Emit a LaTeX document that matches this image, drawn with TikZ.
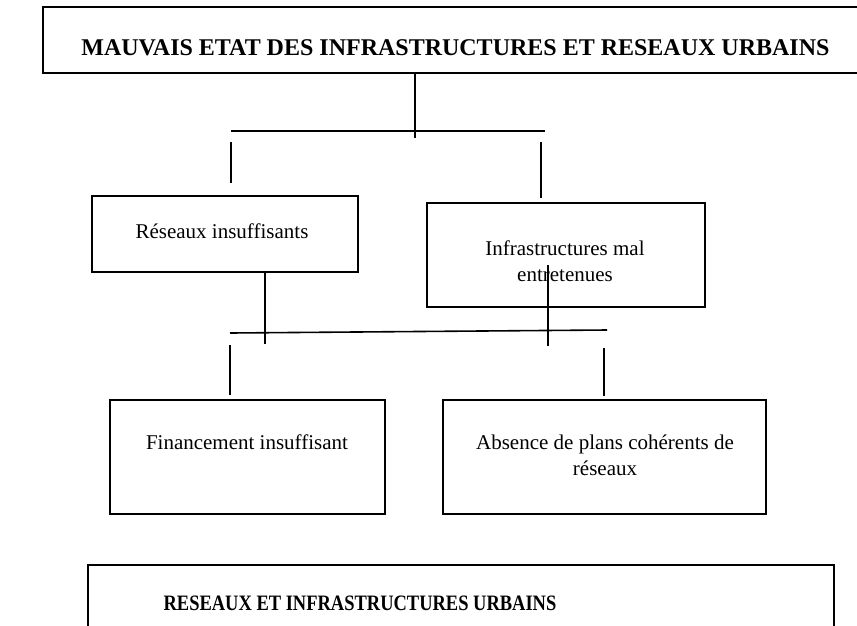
\documentclass[tikz,border=0pt]{standalone}
\usepackage{fontspec}
\setmainfont{Liberation Serif}
\begin{document}
\begin{tikzpicture}[x=1pt,y=-1pt,
  frame/.style={draw, line width=1.6pt, inner sep=0pt},
  link/.style={line width=1.6pt},
  label/.style={inner sep=0pt, align=center, font=\fontsize{21}{26}\selectfont},
  headline/.style={inner sep=0pt, font=\fontsize{24}{28}\selectfont\bfseries},
  subline/.style={inner sep=0pt, font=\fontsize{22}{26}\selectfont\bfseries}]
\useasboundingbox (0,0) rectangle (857,625);
\clip (0,0) rectangle (857,625);

% boxes
\node[frame, minimum width=827, minimum height=66]  (top)  at (456.5,40)   {};
\node[frame, minimum width=266, minimum height=76]  (res)  at (225,234)    {};
\node[frame, minimum width=278, minimum height=104] (infra) at (566,255)   {};
\node[frame, minimum width=275, minimum height=114] (fin)  at (247.5,457)  {};
\node[frame, minimum width=323, minimum height=114] (abs)  at (604.5,457)  {};
\node[frame, minimum width=746, minimum height=80]  (base) at (461,605)    {};

% texts
\node[headline] (topT) at (455.5,48) {MAUVAIS ETAT DES INFRASTRUCTURES ET RESEAUX URBAINS};
\node[label] (resT) at (222,231) {Réseaux insuffisants};
\node[label] (infraT) at (565,261) {Infrastructures mal\\entretenues};
\node[label] (finT) at (247,442) {Financement insuffisant};
\node[label] (absT) at (605,455) {Absence de plans cohérents de\\réseaux};
\node[subline] (baseT) at (360,603) {\scalebox{0.84}[1]{RESEAUX ET INFRASTRUCTURES URBAINS}};

% upper branching
\coordinate (trunkA) at (415,73);
\coordinate (trunkB) at (415,138);
\coordinate (barAl) at (231,131);
\coordinate (barAr) at (545,131);
\coordinate (dropAl1) at (231,142);
\coordinate (dropAl2) at (231,183);
\coordinate (dropAr1) at (541,142);
\coordinate (dropAr2) at (541,198);
\draw[link] (trunkA) -- (trunkB);
\draw[link] (barAl) -- (barAr);
\draw[link] (dropAl1) -- (dropAl2);
\draw[link] (dropAr1) -- (dropAr2);

% lower branching
\coordinate (upL1) at (265,272);
\coordinate (upL2) at (265,344);
\coordinate (upR1) at (548,265);
\coordinate (upR2) at (548,346);
\coordinate (barBl) at (230,333);
\coordinate (barBr) at (607,330);
\coordinate (dropBl1) at (230,345);
\coordinate (dropBl2) at (230,395);
\coordinate (dropBr1) at (604,348);
\coordinate (dropBr2) at (604,396);
\draw[link] (upL1) -- (upL2);
\draw[link] (upR1) -- (upR2);
\draw[link] (barBl) -- (barBr);
\draw[link] (dropBl1) -- (dropBl2);
\draw[link] (dropBr1) -- (dropBr2);
\end{tikzpicture}
\end{document}
